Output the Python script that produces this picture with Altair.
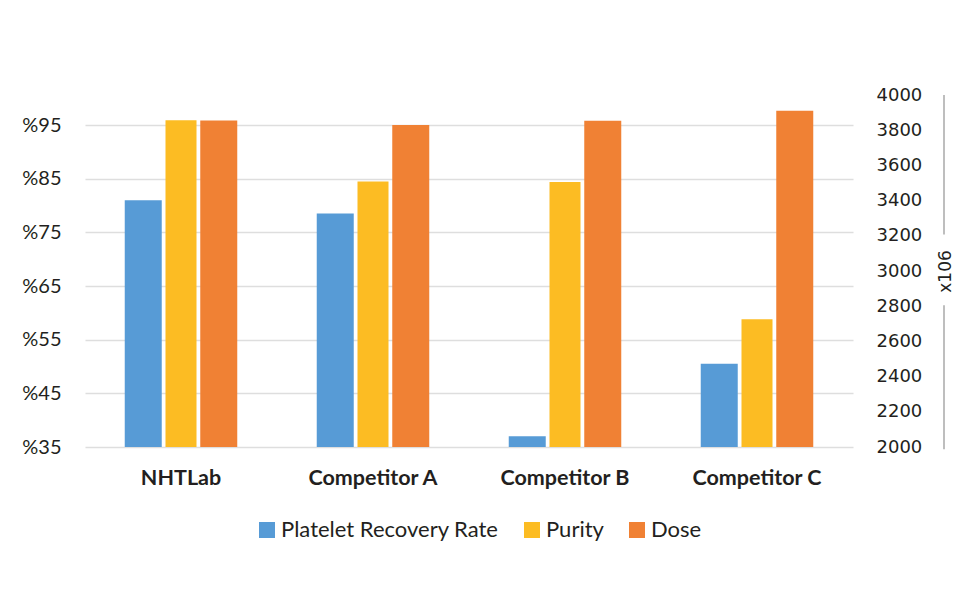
import altair as alt
import pandas as pd

companies = ["NHTLab", "Competitor A", "Competitor B", "Competitor C"]
recovery = [81.0, 78.5, 37.0, 50.5]
purity = [95.9, 84.5, 84.4, 58.8]
dose = [3855, 3830, 3853, 3910]
series = ["Platelet Recovery Rate", "Purity", "Dose"]
colors = ["#579BD6", "#FCBC23", "#F08134"]
left_ticks = [35, 45, 55, 65, 75, 85, 95]
right_ticks = list(range(2000, 4001, 200))
right_title = "x106"
divider_start = [1987, 3208]
divider_end = [2805, 4000]

rows = []
for c, r, p, d in zip(companies, recovery, purity, dose):
    rows.append({"Company": c, "Series": series[0], "Value": r})
    rows.append({"Company": c, "Series": series[1], "Value": p})
    rows.append({"Company": c, "Series": series[2], "Value": d})
df = pd.DataFrame(rows)
df_div = pd.DataFrame({"Value": divider_start, "Value2": divider_end})

W, H = 768, 352
TEXT = "#231f20"

x_enc = alt.X(
    "Company:N",
    sort=companies,
    scale=alt.Scale(domain=companies, paddingInner=0.414, paddingOuter=0.207),
    axis=alt.Axis(
        title=None, labelAngle=0, labelFont="Lato", labelFontWeight="bold",
        labelFontSize=21.5, labelColor=TEXT, labelPadding=20, domain=False, ticks=False,
    ),
)
xoff_enc = alt.XOffset(
    "Series:N",
    scale=alt.Scale(domain=series, paddingInner=0.02, paddingOuter=0),
)
color_enc = alt.Color(
    "Series:N",
    scale=alt.Scale(domain=series, range=colors),
    legend=alt.Legend(
        title=None, orient="none", legendX=171, legendY=424, direction="horizontal",
        symbolType="square", symbolSize=256, symbolStrokeWidth=0,
        labelFont="Lato", labelFontSize=22, labelColor=TEXT, columnPadding=22,
        labelOffset=3, padding=0, labelLimit=400,
    ),
)

left_y = alt.Y(
    "Value:Q",
    scale=alt.Scale(domain=[35, 100.6], zero=False, nice=False),
    axis=alt.Axis(
        values=left_ticks, labelExpr="'%' + datum.value", grid=True,
        gridColor="#dedede", gridWidth=1.5, domain=False, ticks=False,
        labelFont="Lato", labelFontSize=20, labelColor=TEXT, labelPadding=24, title=None,
    ),
)
right_axis = alt.Axis(
    orient="right", values=right_ticks, format="d", grid=False, domain=False, ticks=False,
    labelFont="DejaVu Sans", labelFontSize=18, labelColor=TEXT, labelPadding=23,
    title=right_title, titleAngle=270, titleFont="DejaVu Sans", titleFontSize=17,
    titleFontWeight="normal", titleColor=TEXT, titlePadding=33,
)
right_scale = alt.Scale(domain=[2000, 4000], zero=False, nice=False)

base = alt.Chart(df)

blue = base.transform_filter(alt.datum.Series == series[0]).mark_bar(clip=True).encode(
    x=x_enc, xOffset=xoff_enc, y=left_y, color=color_enc
)
yellow = base.transform_filter(alt.datum.Series == series[1]).mark_bar(width=31, clip=True).encode(
    x=x_enc, xOffset=xoff_enc, y=left_y, color=color_enc
)
orange = base.transform_filter(alt.datum.Series == series[2]).mark_bar(clip=True).encode(
    x=x_enc, xOffset=xoff_enc,
    y=alt.Y("Value:Q", scale=right_scale, axis=right_axis),
    color=color_enc,
)
divider = alt.Chart(df_div).mark_rule(color="#a8a8a8", strokeWidth=1.5).encode(
    x=alt.value(W + 91),
    y=alt.Y("Value:Q", scale=right_scale, axis=right_axis),
    y2="Value2:Q",
)

left_layer = alt.layer(blue, yellow)
right_layer = alt.layer(orange, divider)

chart = (
    alt.layer(left_layer, right_layer)
    .resolve_scale(y="independent")
    .properties(
        width=W, height=H,
        autosize=alt.AutoSizeParams(type="none"),
        padding={"left": 77, "top": 87, "right": 109, "bottom": 120},
        background="white",
    )
    .configure_view(stroke=None)
)

chart.save("out.html", embed_options={"renderer": "svg", "actions": False})
